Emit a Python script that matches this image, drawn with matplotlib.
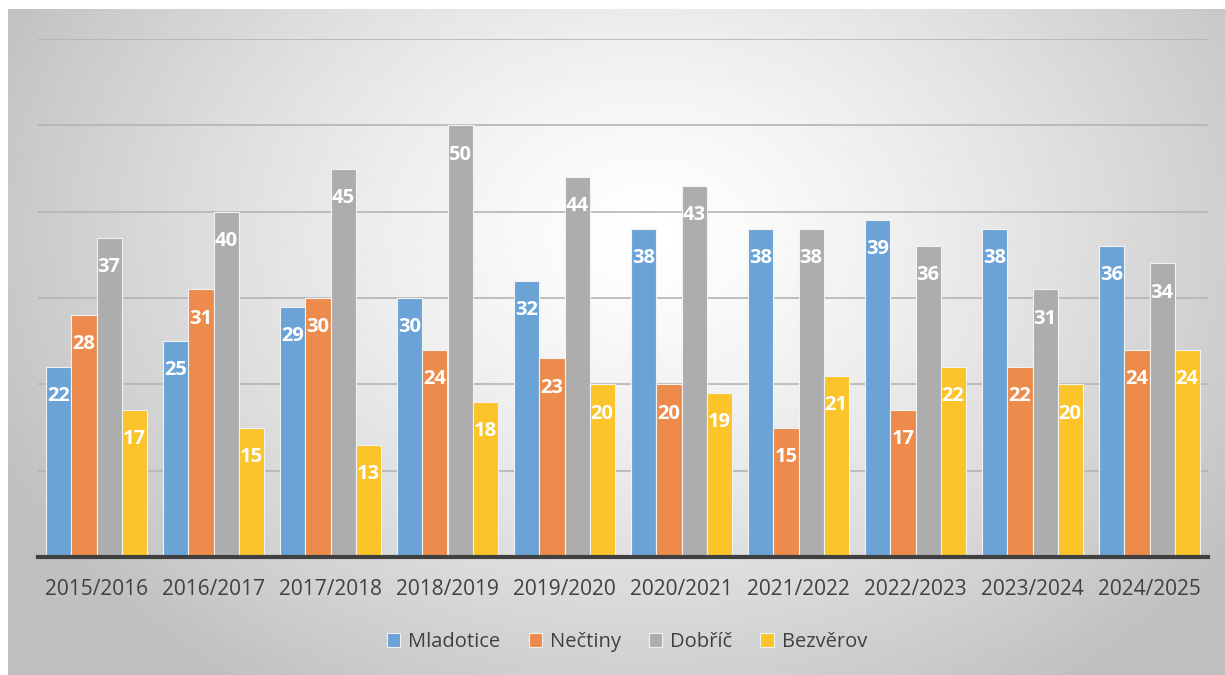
import numpy as np
import matplotlib.pyplot as plt

plt.rcParams['font.family'] = ['Open Sans', 'DejaVu Sans']

seasons = ["2015/2016", "2016/2017", "2017/2018", "2018/2019", "2019/2020",
           "2020/2021", "2021/2022", "2022/2023", "2023/2024", "2024/2025"]
names = ["Mladotice", "Nečtiny", "Dobříč", "Bezvěrov"]
mladotice = [22, 25, 29, 30, 32, 38, 38, 39, 38, 36]
nectiny = [28, 31, 30, 24, 23, 20, 15, 17, 22, 24]
dobric = [37, 40, 45, 50, 44, 43, 38, 36, 31, 34]
bezverov = [17, 15, 13, 18, 20, 19, 21, 22, 20, 24]
series = [mladotice, nectiny, dobric, bezverov]
colors = ["#6ca3d7", "#ec8b4c", "#adadad", "#fac42a"]

W, H = 1225, 675
fig = plt.figure(figsize=(W / 100, H / 100), dpi=100)

# radial gradient panel behind the chart
bg = fig.add_axes([8 / W, 0, 1 - 8 / W, 1 - 9 / H])
bg.set_axis_off()
yy, xx = np.mgrid[0:H, 0:W - 8]
d = np.sqrt(((xx - 640) / 720) ** 2 + ((yy - 230) / 560) ** 2)
shade = 1 - 0.25 * np.clip(d, 0, 1) ** 1.3
bg.imshow(shade, cmap="gray", vmin=0, vmax=1, aspect="auto", interpolation="bilinear")

ax = fig.add_axes([38 / W, (H - 557) / H, (1208 - 38) / W, (557 - 39) / H])
ax.patch.set_alpha(0)

x = np.arange(len(seasons))
bw = 0.214
for i, (name, vals, c) in enumerate(zip(names, series, colors)):
    pos = x + (i - 1.5) * bw
    bars = ax.bar(pos, vals, bw, color=c, edgecolor="#f2f2f2", linewidth=0.8,
                  label=name, zorder=3)
    for b, v in zip(bars, vals):
        ax.annotate(str(v), (b.get_x() + b.get_width() / 2, v),
                    xytext=(0, -21), textcoords="offset points",
                    ha="center", va="center", color="white",
                    fontsize=14.5, fontweight="bold", zorder=4)

ax.set_ylim(0, 60)
ax.set_xlim(-0.5, len(seasons) - 0.5)
ax.set_yticks(range(10, 61, 10))
ax.set_yticklabels([])
ax.tick_params(left=False, bottom=False)
ax.grid(axis="y", color="#b4b4b4", linewidth=1.2, zorder=0)
for s in ["left", "right", "top"]:
    ax.spines[s].set_visible(False)
ax.spines["bottom"].set_color("#404040")
ax.spines["bottom"].set_linewidth(3)
ax.spines["bottom"].set_zorder(5)
ax.set_xticks(x)
ax.set_xticklabels(seasons, fontsize=15, color="#404040")
ax.tick_params(axis="x", pad=12)

fig.legend(loc="center", bbox_to_anchor=(627 / W, 1 - 642 / H), ncol=4,
           frameon=False, fontsize=14.5, labelcolor="#404040",
           handlelength=0.65, handleheight=0.65, handletextpad=0.4,
           columnspacing=1.4)

fig.savefig("out.png", dpi=100)
